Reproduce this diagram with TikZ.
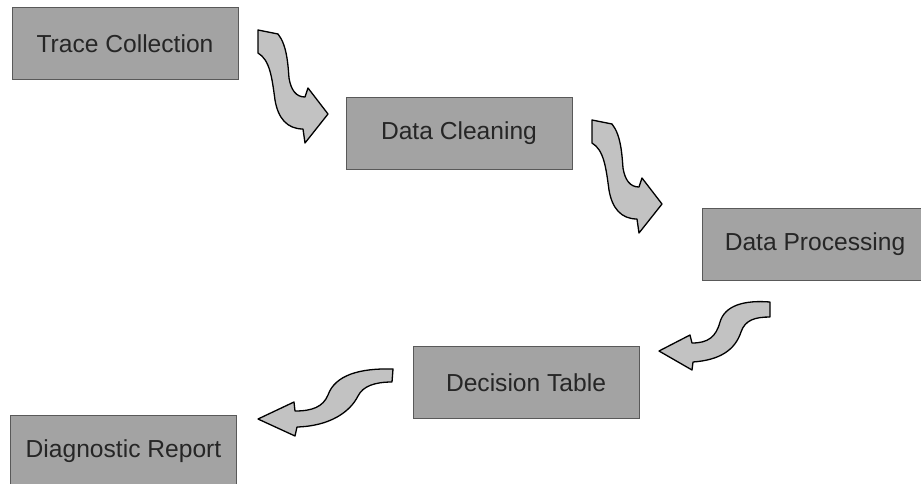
\documentclass[tikz,border=0pt]{standalone}
\usepackage{fontspec}
\setmainfont{Liberation Sans}
\begin{document}
\begin{tikzpicture}[x=1pt,y=-1pt,
  stagebox/.style={rectangle, draw=black!65, line width=0.9pt, fill=black!36,
    minimum width=226pt, minimum height=72pt, inner sep=0pt,
    text=black!85, font=\fontsize{24.6}{30}\selectfont},
  wavearrow/.style={draw=black, line width=1.3pt, fill=black!24, line join=round}]
\useasboundingbox (0,0) rectangle (921,483);
\clip (0,0) rectangle (921,483);

% process stages
\node[stagebox] (trace)    at (125,43.5)  {Trace Collection};
\node[stagebox] (cleaning) at (459,133)   {Data Cleaning};
\node[stagebox] (process)  at (815,244.5) {Data Processing};
\node[stagebox] (decision) at (526,382.5) {Decision Table};
\node[stagebox] (report)   at (123.5,451) {Diagnostic Report};

% wavy block arrows going down to the right
\draw[wavearrow] (258,30) -- (278,34)
  .. controls (287,45) and (288,65) .. (289,78)
  .. controls (291,90) and (296,97) .. (305,97)
  -- (308,88) -- (328,114) -- (305,143) -- (303,129)
  .. controls (287,129) and (278,118) .. (275,100)
  .. controls (272,78) and (270,60) .. (258,53) -- cycle;

\begin{scope}[shift={(334,90)}]
\draw[wavearrow] (258,30) -- (278,34)
  .. controls (287,45) and (288,65) .. (289,78)
  .. controls (291,90) and (296,97) .. (305,97)
  -- (308,88) -- (328,114) -- (305,143) -- (303,129)
  .. controls (287,129) and (278,118) .. (275,100)
  .. controls (272,78) and (270,60) .. (258,53) -- cycle;
\end{scope}

% wavy block arrows going back to the left
\draw[wavearrow] (770,302)
  .. controls (745,300) and (725,305) .. (720,322)
  .. controls (716,337) and (708,343) .. (692,343)
  -- (690,335) -- (659,351) -- (692,370) -- (693,362)
  .. controls (720,360) and (735,350) .. (741,332)
  .. controls (745,320) and (755,317) .. (770,317) -- cycle;

\draw[wavearrow] (393,369)
  .. controls (360,368) and (335,375) .. (328,395)
  .. controls (323,407) and (312,411) .. (295,411)
  -- (294,402) -- (258,419) -- (295,436) -- (297,427)
  .. controls (330,426) and (350,412) .. (358,396)
  .. controls (363,386) and (375,382) .. (392,382) -- cycle;
\end{tikzpicture}
\end{document}
